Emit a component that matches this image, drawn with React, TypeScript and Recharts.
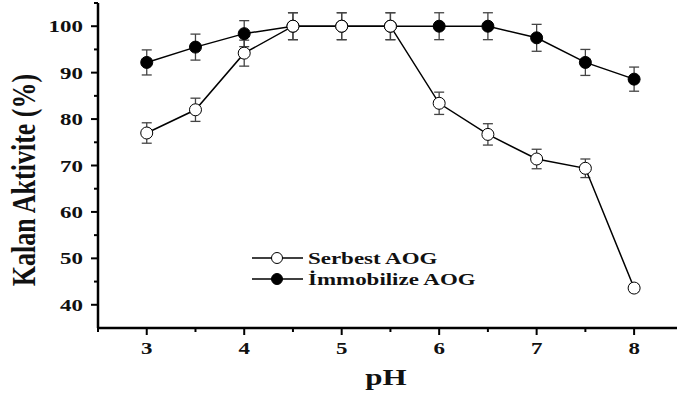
import { LineChart, Line, XAxis, YAxis, ErrorBar, Legend } from "recharts";

const phValues = [3, 3.5, 4, 4.5, 5, 5.5, 6, 6.5, 7, 7.5, 8];
const serbest = [77, 82, 94.2, 100, 100, 100, 83.4, 76.7, 71.4, 69.4, 43.6];
const serbestErr = [2.2, 2.5, 2.8, 2.9, 2.9, 2.9, 2.4, 2.3, 2.1, 2.0, 0.8];
const immobilize = [92.2, 95.5, 98.4, 100, 100, 100, 100, 100, 97.5, 92.2, 88.6];
const immobilizeErr = [2.7, 2.8, 2.8, 2.9, 2.9, 2.9, 2.9, 2.9, 2.9, 2.8, 2.6];

const xTicks = [2.5, 3, 3.5, 4, 4.5, 5, 5.5, 6, 6.5, 7, 7.5, 8];
const yTicks = [40, 45, 50, 55, 60, 65, 70, 75, 80, 85, 90, 95, 100, 105];

const data = phValues.map((ph, i) => ({
  ph,
  serbest: serbest[i],
  serbestErr: serbestErr[i],
  immobilize: immobilize[i],
  immobilizeErr: immobilizeErr[i]
}));

const FONT = '"Liberation Serif", "Times New Roman", serif';
const STRETCH = 1.35;

function YTick({ x = 0, y = 0, payload }: any) {
  const v = payload.value;
  const major = v % 10 === 0;
  return (
    <g>
      <line x1={x} x2={x - (major ? 7 : 4)} y1={y} y2={y} stroke="#000" strokeWidth={2} />
      {major && (
        <text
          transform={`translate(${x - 15},${y + 6}) scale(${STRETCH},1)`}
          textAnchor="end"
          fontFamily={FONT}
          fontWeight={700}
          fontSize={17}
          fill="#111"
        >
          {v}
        </text>
      )}
    </g>
  );
}

function XTick({ x = 0, y = 0, payload }: any) {
  const v = payload.value;
  const major = Number.isInteger(v);
  return (
    <g>
      <line x1={x} x2={x} y1={y} y2={y + (major ? 7 : 4)} stroke="#000" strokeWidth={2} />
      {major && (
        <text
          transform={`translate(${x},${y + 26}) scale(${STRETCH},1)`}
          textAnchor="middle"
          fontFamily={FONT}
          fontWeight={700}
          fontSize={17}
          fill="#111"
        >
          {v}
        </text>
      )}
    </g>
  );
}

function LegendBox() {
  const rows = [
    { name: "Serbest AOG", fill: "#fff" },
    { name: "İmmobilize AOG", fill: "#000" }
  ];
  return (
    <svg width={240} height={50}>
      {rows.map((r, i) => {
        const cy = 13 + i * 21;
        return (
          <g key={r.name}>
            <line x1={7} x2={58} y1={cy} y2={cy} stroke="#000" strokeWidth={1.5} />
            <circle cx={32} cy={cy} r={5.5} fill={r.fill} stroke="#000" strokeWidth={1} />
            <text
              transform={`translate(63,${cy + 6}) scale(${STRETCH},1)`}
              fontFamily={FONT}
              fontWeight={700}
              fontSize={17}
              fill="#111"
            >
              {r.name}
            </text>
          </g>
        );
      })}
    </svg>
  );
}

export default function App() {
  return (
    <div style={{ position: "absolute", left: 0, top: 0, background: "#fff" }}>
      <LineChart
        width={677}
        height={394}
        data={data}
        margin={{ top: 3, right: 0, bottom: 0, left: 0 }}
      >
        <XAxis
          dataKey="ph"
          type="number"
          domain={[2.5, 8.44]}
          ticks={xTicks}
          interval={0}
          height={66}
          tickSize={0}
          tickMargin={0}
          tickLine={false}
          axisLine={{ stroke: "#000", strokeWidth: 2.5 }}
          tick={<XTick />}
          label={{
            content: () => (
              <text
                transform={`translate(386,385) scale(${STRETCH},1)`}
                textAnchor="middle"
                fontFamily={FONT}
                fontWeight={700}
                fontSize={23}
                fill="#111"
              >
                pH
              </text>
            )
          }}
        />
        <YAxis
          type="number"
          domain={[35, 105]}
          ticks={yTicks}
          interval={0}
          width={98}
          tickSize={0}
          tickMargin={0}
          tickLine={false}
          axisLine={{ stroke: "#000", strokeWidth: 2.5 }}
          tick={<YTick />}
          label={{
            content: () => (
              <text
                transform="translate(35,180) scale(1.3,1) rotate(-90)"
                textAnchor="middle"
                fontFamily={FONT}
                fontWeight={700}
                fontSize={26}
                fill="#111"
              >
                Kalan Aktivite (%)
              </text>
            )
          }}
        />
        <Legend
          layout="horizontal"
          verticalAlign="middle"
          align="center"
          content={() => <LegendBox />}
          wrapperStyle={{ left: 245, top: 245, width: 240, height: 50 }}
        />
        <Line
          dataKey="immobilize"
          stroke="#000"
          strokeWidth={1.5}
          isAnimationActive={false}
          dot={{ r: 6, fill: "#000", stroke: "#000", strokeWidth: 1 }}
        >
          <ErrorBar dataKey="immobilizeErr" direction="y" width={5} stroke="#444" strokeWidth={1.3} />
        </Line>
        <Line
          dataKey="serbest"
          stroke="#000"
          strokeWidth={1.5}
          isAnimationActive={false}
          dot={{ r: 6, fill: "#fff", stroke: "#000", strokeWidth: 1 }}
        >
          <ErrorBar dataKey="serbestErr" direction="y" width={5} stroke="#444" strokeWidth={1.3} />
        </Line>
      </LineChart>
    </div>
  );
}
